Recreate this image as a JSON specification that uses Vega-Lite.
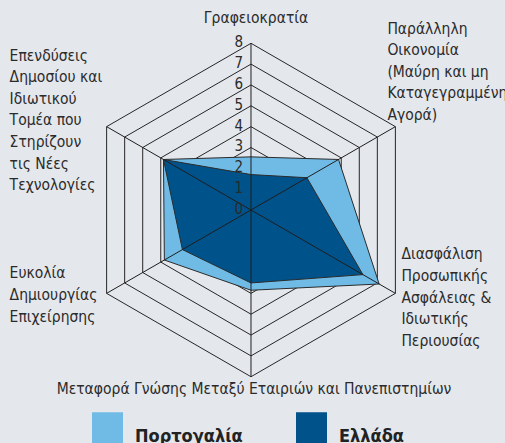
{
  "$schema": "https://vega.github.io/schema/vega-lite/v6.json",
  "width": 505,
  "height": 443,
  "padding": 0,
  "autosize": {"type": "none"},
  "background": "#e4e7ec",
  "config": {"view": {"stroke": null}, "font": "DejaVu Sans Condensed, Liberation Sans Narrow, Roboto"},
  "datasets": {
    "grid": [
      {"level": 1, "k": [0, 1, 2, 3, 4, 5]},
      {"level": 2, "k": [0, 1, 2, 3, 4, 5]},
      {"level": 3, "k": [0, 1, 2, 3, 4, 5]},
      {"level": 4, "k": [0, 1, 2, 3, 4, 5]},
      {"level": 5, "k": [0, 1, 2, 3, 4, 5]},
      {"level": 6, "k": [0, 1, 2, 3, 4, 5]},
      {"level": 7, "k": [0, 1, 2, 3, 4, 5]},
      {"level": 8, "k": [0, 1, 2, 3, 4, 5]}
    ],
    "ticks": [
      {"level": 0}, {"level": 1}, {"level": 2}, {"level": 3}, {"level": 4},
      {"level": 5}, {"level": 6}, {"level": 7}, {"level": 8}
    ],
    "axes": [
      {"k": 0, "label": "Γραφειοκρατία"},
      {"k": 1, "label": "Παράλληλη\nΟικονομία\n(Μαύρη και μη\nΚαταγεγραμμένη\nΑγορά)"},
      {"k": 2, "label": "Διασφάλιση\nΠροσωπικής\nΑσφάλειας &\nΙδιωτικής\nΠεριουσίας"},
      {"k": 3, "label": "Μεταφορά Γνώσης Μεταξύ Εταιριών και Πανεπιστημίων"},
      {"k": 4, "label": "Ευκολία\nΔημιουργίας\nΕπιχείρησης"},
      {"k": 5, "label": "Επενδύσεις\nΔημοσίου και\nΙδιωτικού\nΤομέα που\nΣτηρίζουν\nτις Νέες\nΤεχνολογίες"}
    ],
    "scores": [
      {"country": "Πορτογαλία", "k": 0, "value": 2.55},
      {"country": "Πορτογαλία", "k": 1, "value": 4.85},
      {"country": "Πορτογαλία", "k": 2, "value": 7.1},
      {"country": "Πορτογαλία", "k": 3, "value": 3.85},
      {"country": "Πορτογαλία", "k": 4, "value": 4.8},
      {"country": "Πορτογαλία", "k": 5, "value": 4.85},
      {"country": "Ελλάδα", "k": 0, "value": 1.7},
      {"country": "Ελλάδα", "k": 1, "value": 3.1},
      {"country": "Ελλάδα", "k": 2, "value": 6.2},
      {"country": "Ελλάδα", "k": 3, "value": 3.5},
      {"country": "Ελλάδα", "k": 4, "value": 3.8},
      {"country": "Ελλάδα", "k": 5, "value": 4.85}
    ]
  },
  "resolve": {"scale": {"x": "shared", "y": "shared"}},
  "layer": [
    {
      "data": {"name": "grid"},
      "transform": [
        {"flatten": ["k"]},
        {"calculate": "datum.level * cos((90 - 60 * datum.k) * PI / 180)", "as": "x"},
        {"calculate": "datum.level * sin((90 - 60 * datum.k) * PI / 180)", "as": "y"}
      ],
      "mark": {"type": "line", "interpolate": "linear-closed", "stroke": "#262626", "strokeWidth": 1},
      "encoding": {
        "x": {"field": "x", "type": "quantitative", "scale": {"domain": [-12.044, 12.188], "nice": false, "zero": false}, "axis": null},
        "y": {"field": "y", "type": "quantitative", "scale": {"domain": [-11.18, 10.077], "nice": false, "zero": false}, "axis": null},
        "detail": {"field": "level"},
        "order": {"field": "k", "type": "quantitative"}
      }
    },
    {
      "data": {"name": "scores"},
      "transform": [
        {"filter": "datum.country === 'Πορτογαλία'"},
        {"calculate": "datum.value * cos((90 - 60 * datum.k) * PI / 180)", "as": "x"},
        {"calculate": "datum.value * sin((90 - 60 * datum.k) * PI / 180)", "as": "y"}
      ],
      "mark": {"type": "line", "interpolate": "linear-closed", "filled": true, "stroke": "#2b2b2b", "strokeWidth": 1},
      "encoding": {
        "x": {"field": "x", "type": "quantitative"},
        "y": {"field": "y", "type": "quantitative"},
        "fill": {
          "field": "country", "type": "nominal",
          "scale": {"domain": ["Πορτογαλία", "Ελλάδα"], "range": ["#70bbe6", "#00528a"]},
          "legend": {
            "title": null, "orient": "none", "legendX": 92, "legendY": 412, "direction": "horizontal",
            "symbolType": "square", "symbolSize": 961, "symbolStrokeWidth": 0, "symbolOpacity": 1,
            "labelFontSize": 18, "labelFontWeight": "bold", "labelColor": "#222222", "labelOffset": 12,
            "labelBaseline": "top", "columnPadding": 53, "padding": 0, "labelLimit": 200
          }
        },
        "order": {"field": "k", "type": "quantitative"}
      }
    },
    {
      "data": {"name": "scores"},
      "transform": [
        {"filter": "datum.country === 'Ελλάδα'"},
        {"calculate": "datum.value * cos((90 - 60 * datum.k) * PI / 180)", "as": "x"},
        {"calculate": "datum.value * sin((90 - 60 * datum.k) * PI / 180)", "as": "y"}
      ],
      "mark": {"type": "line", "interpolate": "linear-closed", "filled": true, "stroke": "#2b2b2b", "strokeWidth": 1},
      "encoding": {
        "x": {"field": "x", "type": "quantitative"},
        "y": {"field": "y", "type": "quantitative"},
        "fill": {"field": "country", "type": "nominal"},
        "order": {"field": "k", "type": "quantitative"}
      }
    },
    {
      "data": {"name": "axes"},
      "transform": [
        {"calculate": "8 * cos((90 - 60 * datum.k) * PI / 180)", "as": "x"},
        {"calculate": "8 * sin((90 - 60 * datum.k) * PI / 180)", "as": "y"}
      ],
      "mark": {"type": "rule", "stroke": "#1e1e1e", "strokeWidth": 1},
      "encoding": {
        "x": {"field": "x", "type": "quantitative"},
        "y": {"field": "y", "type": "quantitative"},
        "x2": {"datum": 0},
        "y2": {"datum": 0}
      }
    },
    {
      "data": {"name": "ticks"},
      "mark": {"type": "text", "align": "right", "baseline": "middle", "dx": -8, "dy": -1, "fontSize": 15, "color": "#2b2b2b"},
      "encoding": {
        "x": {"datum": 0},
        "y": {"field": "level", "type": "quantitative"},
        "text": {"field": "level", "type": "quantitative"}
      }
    },
    {
      "data": {"name": "axes"},
      "transform": [
        {"filter": "datum.k === 0"},
        {"calculate": "8 * cos((90 - 60 * datum.k) * PI / 180)", "as": "x"},
        {"calculate": "8 * sin((90 - 60 * datum.k) * PI / 180)", "as": "y"}
      ],
      "mark": {"type": "text", "align": "center", "baseline": "middle", "dx": 5, "dy": -25, "fontSize": 15.5, "color": "#2b2b2b", "lineBreak": "\n", "lineHeight": 21.6},
      "encoding": {"x": {"field": "x", "type": "quantitative"}, "y": {"field": "y", "type": "quantitative"}, "text": {"field": "label"}}
    },
    {
      "data": {"name": "axes"},
      "transform": [
        {"filter": "datum.k === 1"},
        {"calculate": "8 * cos((90 - 60 * datum.k) * PI / 180)", "as": "x"},
        {"calculate": "8 * sin((90 - 60 * datum.k) * PI / 180)", "as": "y"}
      ],
      "mark": {"type": "text", "align": "left", "baseline": "middle", "dx": -8, "dy": -98, "fontSize": 15.5, "color": "#2b2b2b", "lineBreak": "\n", "lineHeight": 21.6},
      "encoding": {"x": {"field": "x", "type": "quantitative"}, "y": {"field": "y", "type": "quantitative"}, "text": {"field": "label"}}
    },
    {
      "data": {"name": "axes"},
      "transform": [
        {"filter": "datum.k === 2"},
        {"calculate": "8 * cos((90 - 60 * datum.k) * PI / 180)", "as": "x"},
        {"calculate": "8 * sin((90 - 60 * datum.k) * PI / 180)", "as": "y"}
      ],
      "mark": {"type": "text", "align": "left", "baseline": "middle", "dx": 6, "dy": -39, "fontSize": 15.5, "color": "#2b2b2b", "lineBreak": "\n", "lineHeight": 21.6},
      "encoding": {"x": {"field": "x", "type": "quantitative"}, "y": {"field": "y", "type": "quantitative"}, "text": {"field": "label"}}
    },
    {
      "data": {"name": "axes"},
      "transform": [
        {"filter": "datum.k === 3"},
        {"calculate": "8 * cos((90 - 60 * datum.k) * PI / 180)", "as": "x"},
        {"calculate": "8 * sin((90 - 60 * datum.k) * PI / 180)", "as": "y"}
      ],
      "mark": {"type": "text", "align": "center", "baseline": "middle", "dx": 3, "dy": 12, "fontSize": 15.5, "color": "#2b2b2b", "lineBreak": "\n", "lineHeight": 21.6},
      "encoding": {"x": {"field": "x", "type": "quantitative"}, "y": {"field": "y", "type": "quantitative"}, "text": {"field": "label"}}
    },
    {
      "data": {"name": "axes"},
      "transform": [
        {"filter": "datum.k === 4"},
        {"calculate": "8 * cos((90 - 60 * datum.k) * PI / 180)", "as": "x"},
        {"calculate": "8 * sin((90 - 60 * datum.k) * PI / 180)", "as": "y"}
      ],
      "mark": {"type": "text", "align": "left", "baseline": "middle", "dx": -97, "dy": -20, "fontSize": 15.5, "color": "#2b2b2b", "lineBreak": "\n", "lineHeight": 21.6},
      "encoding": {"x": {"field": "x", "type": "quantitative"}, "y": {"field": "y", "type": "quantitative"}, "text": {"field": "label"}}
    },
    {
      "data": {"name": "axes"},
      "transform": [
        {"filter": "datum.k === 5"},
        {"calculate": "8 * cos((90 - 60 * datum.k) * PI / 180)", "as": "x"},
        {"calculate": "8 * sin((90 - 60 * datum.k) * PI / 180)", "as": "y"}
      ],
      "mark": {"type": "text", "align": "left", "baseline": "middle", "dx": -97, "dy": -71, "fontSize": 15.5, "color": "#2b2b2b", "lineBreak": "\n", "lineHeight": 21.6},
      "encoding": {"x": {"field": "x", "type": "quantitative"}, "y": {"field": "y", "type": "quantitative"}, "text": {"field": "label"}}
    }
  ]
}
